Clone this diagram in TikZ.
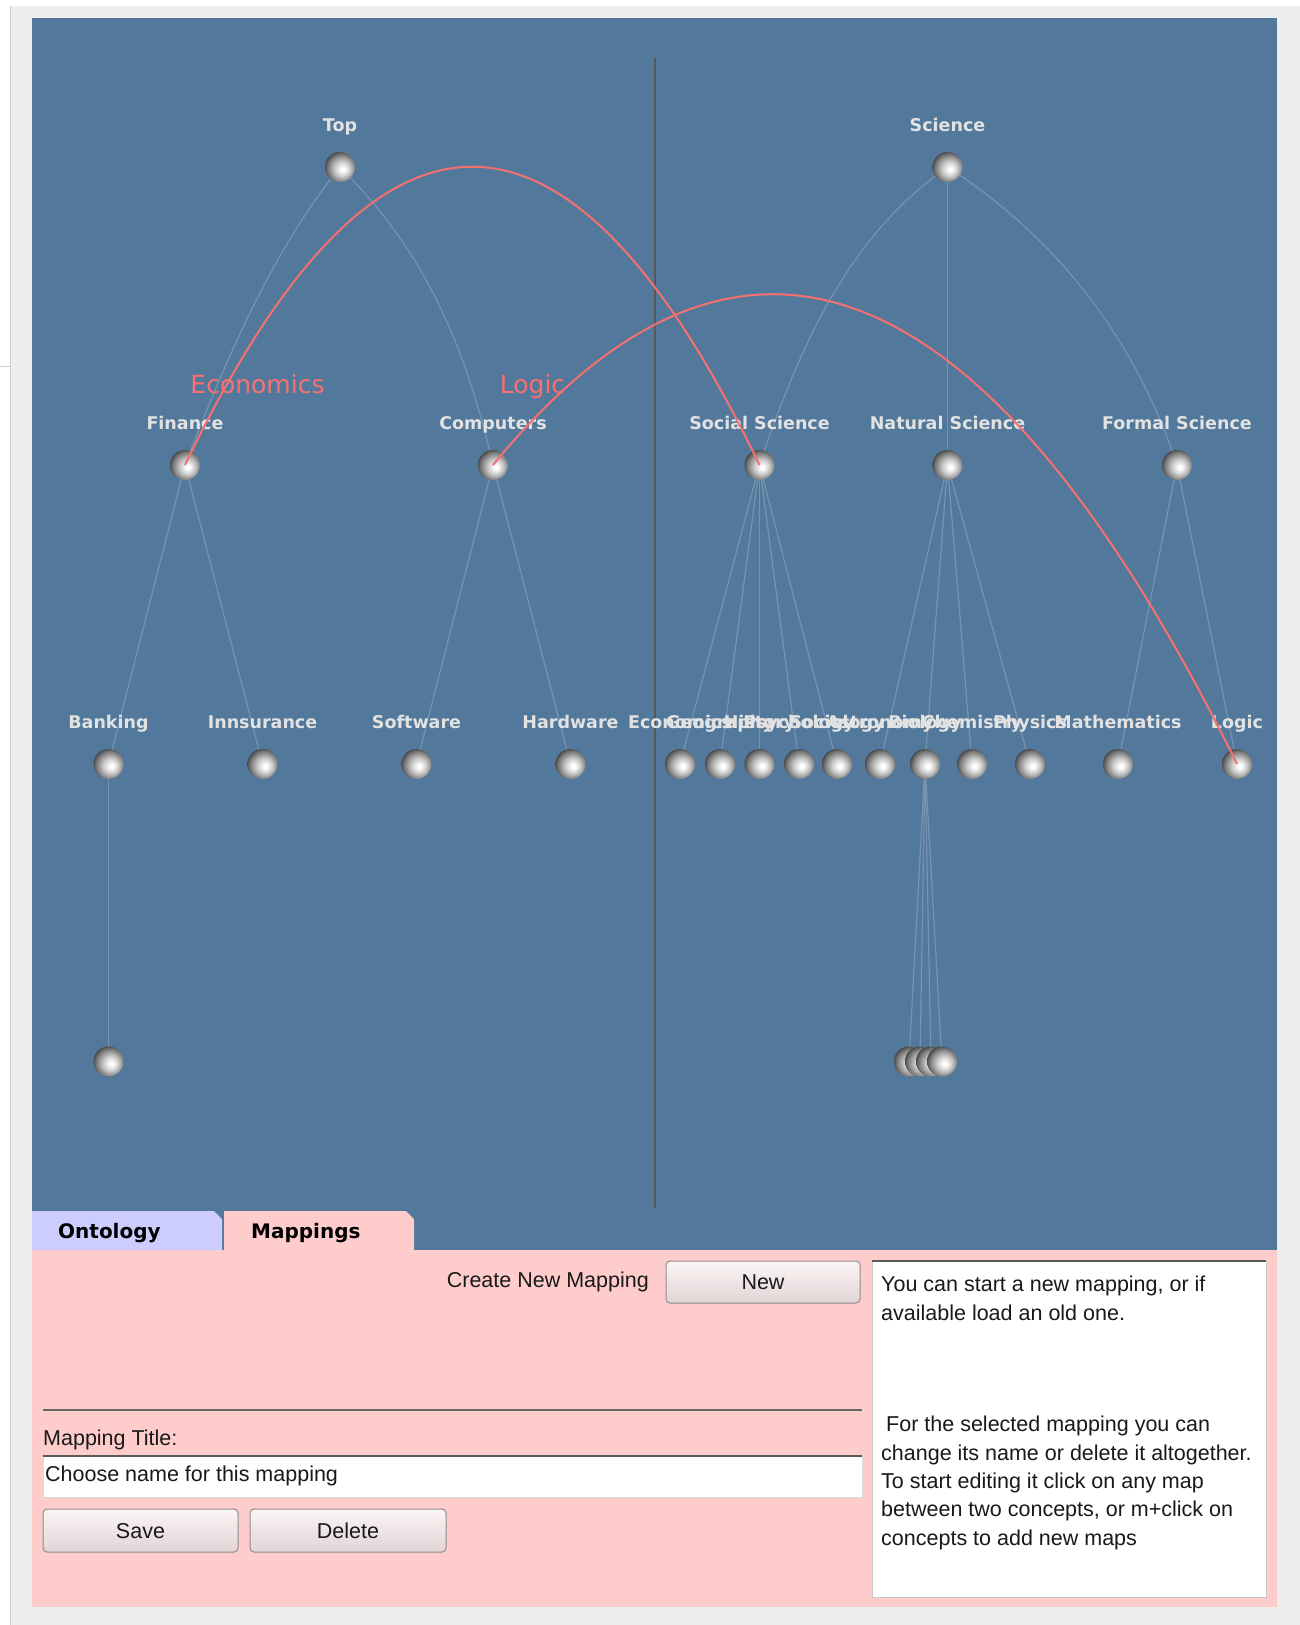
\documentclass[tikz,border=0pt]{standalone}
\usepackage{fontspec}
\setmainfont{Liberation Sans}
\newfontfamily\dejavu{DejaVu Sans}
\usetikzlibrary{calc}
\definecolor{panelblue}{RGB}{82,120,155}
\definecolor{edgegray}{RGB}{120,147,175}
\definecolor{maparc}{RGB}{245,112,112}
\definecolor{maplbl}{RGB}{250,112,112}
\definecolor{lblgray}{RGB}{226,226,226}
\definecolor{pinkbg}{RGB}{255,204,204}
\definecolor{lavender}{RGB}{204,204,255}
\definecolor{framegray}{RGB}{238,238,238}
\definecolor{divider}{RGB}{88,88,88}
\definecolor{btntop}{RGB}{252,245,245}
\definecolor{btnbot}{RGB}{226,212,214}
\pgfdeclareradialshading{sphereshade}{\pgfpoint{5bp}{-4bp}}{color(0bp)=(white); color(3bp)=(white); color(13bp)=(black!22); color(23bp)=(black!52); color(29bp)=(black!75); color(50bp)=(black!75)}
\pgfdeclarelayer{bg}
\pgfdeclarelayer{edges}
\pgfsetlayers{bg,edges,main}
\begin{document}
\begin{tikzpicture}[x=1pt,y=-1pt,
  sph/.style={circle,minimum size=30pt,inner sep=0pt,shading=sphereshade},
  lbl/.style={anchor=base,inner sep=0pt,text=lblgray,font=\dejavu\bfseries\fontsize{17.5}{20}\selectfont},
  tree/.style={draw=edgegray,line width=1.2pt},
  maplink/.style={draw=maparc,line width=2pt},
  mapname/.style={anchor=base,inner sep=0pt,text=maplbl,font=\dejavu\fontsize{25}{28}\selectfont},
  ui/.style={anchor=base west,inner sep=0pt,text=black!90,font=\fontsize{21.5}{25}\selectfont},
  btn/.style={draw=black!45,rounded corners=4pt,top color=btntop,bottom color=btnbot,line width=1pt,inner sep=0pt,text height=15.5pt,text depth=0pt,text=black!90,font=\fontsize{21.5}{25}\selectfont},
  tabtext/.style={anchor=base west,inner sep=0pt,text=black,font=\dejavu\bfseries\fontsize{20}{24}\selectfont}
]
\useasboundingbox (0,0) rectangle (1300,1625);
\begin{pgfonlayer}{bg}
\fill[framegray] (0,0) rectangle (1300,1625);
\fill[white] (0,0) rectangle (1300,6);
\fill[white] (0,6) rectangle (10,1625);
\draw[black!20,line width=1.5pt] (10.5,6) -- (10.5,1625);
\draw[black!20,line width=1pt] (0,366) -- (10,366);
\fill[panelblue] (32,17.5) rectangle (1277,1250);
\fill[pinkbg] (32,1250) rectangle (1277,1607);
\fill[lavender] (32,1250) -- (32,1211) -- (214,1211) -- (222,1219) -- (222,1250) -- cycle;
\fill[pinkbg] (224,1250) -- (224,1211) -- (406,1211) -- (414,1219) -- (414,1250) -- cycle;
\coordinate (divtop) at (655,58);
\coordinate (divbot) at (655,1208);
\draw[divider,line width=1.3pt] (divtop) -- (divbot);
\end{pgfonlayer}

% tabs
\node[tabtext] (tabonto) at (58,1238) {Ontology};
\node[tabtext] (tabmap) at (251,1238) {Mappings};

% spheres level 1
\node[sph] (top) at (340,167) {};
\node[sph] (sci) at (947.5,167) {};
% level 2
\node[sph] (fin) at (185,465) {};
\node[sph] (comp) at (493,465) {};
\node[sph] (ss) at (759.5,465) {};
\node[sph] (ns) at (947.5,465) {};
\node[sph] (fs) at (1177,465) {};
% level 3
\node[sph] (bank) at (108.5,764) {};
\node[sph] (ins) at (262.5,764) {};
\node[sph] (soft) at (416.5,764) {};
\node[sph] (hard) at (570.5,764) {};
\node[sph] (eco) at (680,764) {};
\node[sph] (geo) at (720,764) {};
\node[sph] (hist) at (759.5,764) {};
\node[sph] (psy) at (799,764) {};
\node[sph] (soc) at (837,764) {};
\node[sph] (astro) at (880,764) {};
\node[sph] (bio) at (925,764) {};
\node[sph] (chem) at (972,764) {};
\node[sph] (phys) at (1030,764) {};
\node[sph] (math) at (1118,764) {};
\node[sph] (logic) at (1237,764) {};
% level 4
\node[sph] (bankc) at (108.5,1061.5) {};
\node[sph] (bioc1) at (909,1061.5) {};
\node[sph] (bioc2) at (920,1061.5) {};
\node[sph] (bioc3) at (931,1061.5) {};
\node[sph] (bioc4) at (942,1061.5) {};

% tree edges
\begin{pgfonlayer}{edges}
\draw[tree] (top.center) .. controls +(-60,75) and +(50,-130) .. (fin.center);
\draw[tree] (top.center) .. controls +(67.5,67.5) and +(-34.5,-150) .. (comp.center);
\draw[tree] (sci.center) .. controls +(-85,60) and +(50,-150) .. (ss.center);
\draw[tree] (sci.center) -- (ns.center);
\draw[tree] (sci.center) .. controls +(111,72) and +(-42,-126) .. (fs.center);
\foreach \p/\c in {fin/bank,fin/ins,comp/soft,comp/hard,ss/eco,ss/geo,ss/hist,ss/psy,ss/soc,ns/astro,ns/bio,ns/chem,ns/phys,fs/math,fs/logic,bank/bankc,bio/bioc1,bio/bioc2,bio/bioc3,bio/bioc4}
  \draw[tree] (\p.center) -- (\c.center);
\end{pgfonlayer}

% labels
\node[lbl] (ltop) at (340,131.3) {Top};
\node[lbl] (lsci) at (947.5,131.3) {Science};
\node[lbl] (lfin) at (185,429.3) {Finance};
\node[lbl] (lcomp) at (493,429.3) {Computers};
\node[lbl] (lss) at (759.5,429.3) {Social Science};
\node[lbl] (lns) at (947.5,429.3) {Natural Science};
\node[lbl] (lfs) at (1177,429.3) {Formal Science};
\node[lbl] (lbank) at (108.5,728.3) {Banking};
\node[lbl] (lins) at (262.5,728.3) {Innsurance};
\node[lbl] (lsoft) at (416.5,728.3) {Software};
\node[lbl] (lhard) at (570.5,728.3) {Hardware};
\node[lbl] (leco) at (680,728.3) {Economics};
\node[lbl] (lgeo) at (720,728.3) {Geography};
\node[lbl] (lhist) at (759.5,728.3) {History};
\node[lbl] (lpsy) at (799,728.3) {Psychology};
\node[lbl] (lsoc) at (837,728.3) {Sociology};
\node[lbl] (lastro) at (880,728.3) {Astronomy};
\node[lbl] (lbio) at (925,728.3) {Biology};
\node[lbl] (lchem) at (972,728.3) {Chemistry};
\node[lbl] (lphys) at (1030,728.3) {Physics};
\node[lbl] (lmath) at (1118,728.3) {Mathematics};
\node[lbl] (llogic) at (1237,728.3) {Logic};

% mapping arcs
\draw[maplink] (fin.center) .. controls +(191.5,-397.7) and +(-191.5,-397.7) .. (ss.center);
\draw[maplink] (comp.center) .. controls +(248,-302.7) and +(-248,-502) .. (logic.center);
\node[mapname] (mapeco) at (257.5,393) {Economics};
\node[mapname] (maplogic) at (532.5,393) {Logic};

% mappings panel
\node[ui,anchor=base east] (createlbl) at (649,1287) {Create New Mapping};
\node[btn,minimum width=194pt,minimum height=42pt] (newbtn) at (763,1282) {New};

\node[fill=white,draw=black!22,anchor=north west,minimum width=394pt,minimum height=336pt,inner sep=0pt] (info) at (872,1261) {};
\draw[black!65,line width=1.5pt] (info.north west) -- (info.north east);
\node[ui] (info1) at (881,1291.7) {You can start a new mapping, or if};
\node[ui] (info2) at (881,1320) {available load an old one.};
\node[ui] (info3) at (881,1431.7) {\hspace{5pt}For the selected mapping you can};
\node[ui] (info4) at (881,1460) {change its name or delete it altogether.};
\node[ui] (info5) at (881,1488.3) {To start editing it click on any map};
\node[ui] (info6) at (881,1516.7) {between two concepts, or m+click on};
\node[ui] (info7) at (881,1545) {concepts to add new maps};

\coordinate (sepl) at (43,1410);
\coordinate (sepr) at (862,1410);
\draw[black!60,line width=2pt] (sepl) -- (sepr);

\node[ui] (titlelbl) at (43,1445) {Mapping Title:};
\node[fill=white,draw=black!15,anchor=north west,minimum width=819pt,minimum height=41pt,inner sep=0pt] (titlefield) at (43,1456) {};
\draw[black!65,line width=1.5pt] (titlefield.north west) -- (titlefield.north east);
\node[ui] (titletext) at (45,1481.7) {Choose name for this mapping};

\node[btn,minimum width=195pt,minimum height=43pt] (savebtn) at (140.5,1530.5) {Save};
\node[btn,minimum width=196pt,minimum height=43pt] (delbtn) at (348,1530.5) {Delete};
\end{tikzpicture}
\end{document}
